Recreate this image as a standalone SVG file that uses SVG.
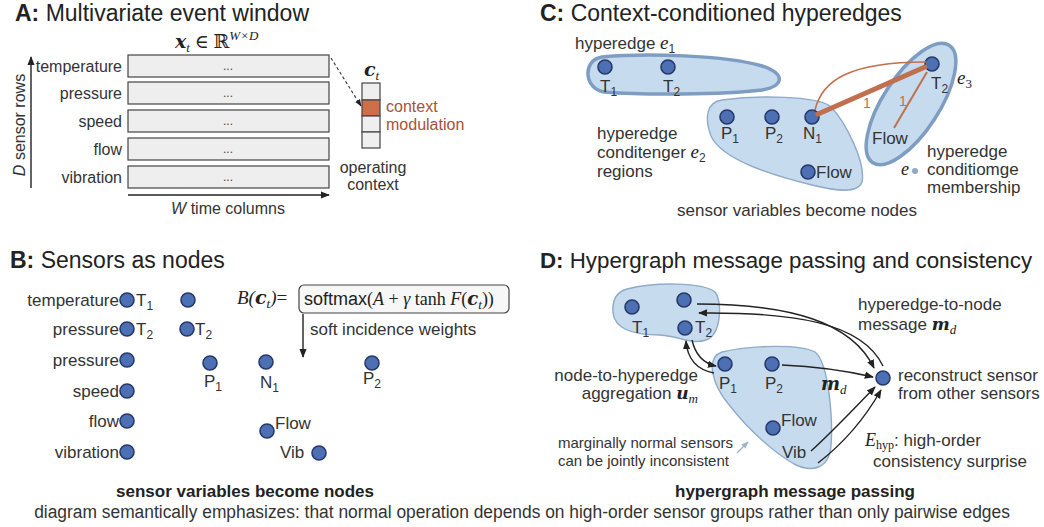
<svg xmlns="http://www.w3.org/2000/svg" width="1044" height="527" viewBox="0 0 1044 527">
  <defs>
    <style>
      .t { font-family: "Liberation Sans", Arial, sans-serif; fill: #333; }
      .title { font-family: "Liberation Sans", Arial, sans-serif; font-size: 23px; fill: #222; }
      .lbl { font-family: "Liberation Sans", Arial, sans-serif; font-size: 16px; fill: #333; }
      .lbl17 { font-family: "Liberation Sans", Arial, sans-serif; font-size: 17px; fill: #333; }
      .sm { font-family: "Liberation Sans", Arial, sans-serif; font-size: 15px; fill: #333; }
      .math { font-family: "Liberation Serif", "DejaVu Serif", serif; font-style: italic; fill: #222; }
      .rm { font-family: "Liberation Serif", "DejaVu Serif", serif; font-style: normal; fill: #222; }
      .mb { font-family: "DejaVu Serif", "Liberation Serif", serif; font-style: italic; font-weight: bold; fill: #222; }
      .node { fill: #4d6fb3; stroke: #26396a; stroke-width: 1.6; }
      .row { fill: #eeeeee; stroke: #444; stroke-width: 1.2; }
      .cell { fill: #efefef; stroke: #444; stroke-width: 1.2; }
      .edge-strong { fill: #c7dbee; stroke: #7d9dc3; stroke-width: 3.5; }
      .edge-soft { fill: #c7dbee; stroke: #8fabc9; stroke-width: 1.4; }
      .arr { fill: none; stroke: #222; stroke-width: 1.4; }
      .wt { fill: none; stroke: #c0704f; }
      .dots { font-family: "Liberation Sans", Arial, sans-serif; font-size: 12px; fill: #444; }
      .ctx { fill: #a4533a; }
    </style>
    <marker id="ah" viewBox="0 0 10 10" refX="9" refY="5" markerWidth="6.5" markerHeight="6.5" orient="auto">
      <path d="M0,1 L10,5 L0,9 z" fill="#222"/>
    </marker>
    <marker id="ahg" viewBox="0 0 10 10" refX="9" refY="5" markerWidth="6" markerHeight="6" orient="auto">
      <path d="M0,1 L10,5 L0,9 z" fill="#9bb4c8"/>
    </marker>
  </defs>

  <rect width="1044" height="527" fill="#ffffff"/>

  <!-- ===== Panel A: multivariate event window ===== -->
  <g id="panel-a">
    <text class="title" x="15" y="21"><tspan font-weight="bold">A:</tspan> Multivariate event window</text>
    <text x="175" y="48" font-size="19"><tspan class="mb">x</tspan><tspan class="math" font-size="13" dy="4">t</tspan><tspan class="rm" dy="-4"> ∈ </tspan><tspan class="rm" style="font-family:'DejaVu Serif',serif">ℝ</tspan><tspan class="math" font-size="13" dy="-8">W×D</tspan></text>

    <g id="matrix">
      <rect class="row" x="128" y="55" width="201" height="22"/>
      <rect class="row" x="128" y="82" width="201" height="22"/>
      <rect class="row" x="128" y="110" width="201" height="22"/>
      <rect class="row" x="128" y="138" width="201" height="22"/>
      <rect class="row" x="128" y="166" width="201" height="22"/>
      <text class="dots" x="228" y="70" text-anchor="middle">...</text>
      <text class="dots" x="228" y="97" text-anchor="middle">...</text>
      <text class="dots" x="228" y="125" text-anchor="middle">...</text>
      <text class="dots" x="228" y="153" text-anchor="middle">...</text>
      <text class="dots" x="228" y="181" text-anchor="middle">...</text>
    </g>

    <g id="row-labels" class="lbl" text-anchor="end">
      <text x="122" y="72">temperature</text>
      <text x="122" y="99">pressure</text>
      <text x="122" y="127">speed</text>
      <text x="122" y="155">flow</text>
      <text x="122" y="183">vibration</text>
    </g>

    <line class="arr" x1="31" y1="188" x2="31" y2="57" marker-end="url(#ah)" stroke-width="1.2"/>
    <text class="lbl" transform="translate(25 125) rotate(-90)" text-anchor="middle"><tspan font-style="italic">D</tspan> sensor rows</text>
    <line class="arr" x1="128" y1="195" x2="329" y2="195" marker-end="url(#ah)" stroke-width="1.2"/>
    <text class="lbl" x="228" y="214" text-anchor="middle"><tspan font-style="italic">W</tspan> time columns</text>

    <g id="context-vector">
      <text x="364" y="76" font-size="19"><tspan class="mb">c</tspan><tspan class="math" font-size="13" dy="4">t</tspan></text>
      <rect class="cell" x="362" y="83" width="18" height="17"/>
      <rect x="362" y="100" width="18" height="16" fill="#cd6f4a" stroke="#444" stroke-width="1.2"/>
      <rect class="cell" x="362" y="116" width="18" height="16"/>
      <rect class="cell" x="362" y="132" width="18" height="16"/>
      <text class="lbl ctx" x="386" y="112">context</text>
      <text class="lbl ctx" x="386" y="130">modulation</text>
      <text class="lbl" x="373" y="173" text-anchor="middle">operating</text>
      <text class="lbl" x="373" y="190" text-anchor="middle">context</text>
    </g>
    <line x1="331" y1="58" x2="361" y2="106" stroke="#333" stroke-width="1.1" stroke-dasharray="3 2.5" marker-end="url(#ah)"/>
  </g>

  <!-- ===== Panel C: context-conditioned hyperedges ===== -->
  <g id="panel-c">
    <text class="title" x="540" y="21"><tspan font-weight="bold">C:</tspan> Context-conditioned hyperedges</text>
    <text class="lbl17" x="575" y="49">hyperedge <tspan class="math" font-size="19">e</tspan><tspan font-size="12" dy="4">1</tspan></text>

    <g id="hyperedge-e1">
      <path class="edge-strong" d="M602,57 C645,53 725,55 762,66 C786,74 784,86 762,90 C722,95 640,95 604,92 C584,89 582,60 602,57 Z"/>
      <circle class="node" cx="605" cy="67" r="7"/>
      <circle class="node" cx="668" cy="67" r="7"/>
      <text class="lbl17" x="600" y="92">T<tspan font-size="12" dy="4">1</tspan></text>
      <text class="lbl17" x="663" y="92">T<tspan font-size="12" dy="4">2</tspan></text>
    </g>

    <g id="hyperedge-e2">
      <path class="edge-soft" d="M722,100 C760,95 815,96 830,106 C846,122 866,163 862,182 C858,194 836,191 812,185 C772,175 722,160 711,136 C704,117 707,102 722,100 Z"/>
      <circle class="node" cx="727" cy="117" r="7"/>
      <circle class="node" cx="772" cy="117" r="7"/>
      <circle class="node" cx="812" cy="117" r="7"/>
      <circle class="node" cx="808" cy="172" r="7"/>
      <text class="lbl17" x="721" y="139">P<tspan font-size="12" dy="4">1</tspan></text>
      <text class="lbl17" x="765" y="139">P<tspan font-size="12" dy="4">2</tspan></text>
      <text class="lbl17" x="803" y="139">N<tspan font-size="12" dy="4">1</tspan></text>
      <text class="lbl17" x="816" y="178">Flow</text>
    </g>

    <g id="hyperedge-e3">
      <ellipse class="edge-strong" cx="911" cy="104" rx="70" ry="28" transform="rotate(-57 911 104)"/>
      <circle class="node" cx="932" cy="64" r="7"/>
      <text class="lbl17" x="931" y="89">T<tspan font-size="12" dy="4">2</tspan></text>
      <text class="lbl17" x="872" y="144">Flow</text>
      <text class="math" x="957" y="84" font-size="19">e<tspan class="rm" font-size="13" dy="4">3</tspan></text>
    </g>

    <g id="weights">
      <path class="wt" d="M815,110 C822,80 850,62 926,62" stroke-width="1.6"/>
      <line class="wt" x1="818" y1="114" x2="925" y2="67" stroke-width="5" stroke-linecap="round"/>
      <line class="wt" x1="894" y1="128" x2="927" y2="72" stroke-width="2"/>
      <text class="t" x="863" y="108" font-size="14" style="fill:#c0704f">1</text>
      <text class="t" x="899" y="106" font-size="14" style="fill:#c0704f">1</text>
    </g>

    <g class="lbl17">
      <text x="597" y="139">hyperedge</text>
      <text x="597" y="158">conditenger <tspan class="math" font-size="19">e</tspan><tspan font-size="12" dy="4">2</tspan></text>
      <text x="597" y="177">regions</text>
      <text x="927" y="157">hyperedge</text>
      <text x="927" y="175">conditiomge</text>
      <text x="927" y="193">membership</text>
      <text x="797" y="216" text-anchor="middle">sensor variables become nodes</text>
    </g>
    <text class="math" x="901" y="175" font-size="18">e</text>
    <circle cx="915" cy="171" r="3" fill="#8fa9c6"/>
  </g>

  <!-- ===== Panel B: sensors as nodes ===== -->
  <g id="panel-b">
    <text class="title" x="10" y="268"><tspan font-weight="bold">B:</tspan> Sensors as nodes</text>

    <g class="lbl17" text-anchor="end">
      <text x="119" y="306">temperature</text>
      <text x="119" y="335">pressure</text>
      <text x="119" y="366">pressure</text>
      <text x="119" y="397">speed</text>
      <text x="119" y="427">flow</text>
      <text x="119" y="458">vibration</text>
    </g>
    <g id="sensor-nodes">
      <circle class="node" cx="127" cy="300" r="7"/>
      <circle class="node" cx="127" cy="329" r="7"/>
      <circle class="node" cx="127" cy="360" r="7"/>
      <circle class="node" cx="127" cy="391" r="7"/>
      <circle class="node" cx="127" cy="421" r="7"/>
      <circle class="node" cx="127" cy="452" r="7"/>
      <circle class="node" cx="188" cy="300" r="7"/>
      <circle class="node" cx="187" cy="329" r="7"/>
      <circle class="node" cx="210" cy="363" r="7"/>
      <circle class="node" cx="266" cy="362" r="7"/>
      <circle class="node" cx="372" cy="363" r="7"/>
      <circle class="node" cx="267" cy="431" r="7"/>
      <circle class="node" cx="319" cy="453" r="7"/>
    </g>
    <g class="lbl17">
      <text x="136" y="306">T<tspan font-size="12" dy="4">1</tspan></text>
      <text x="136" y="335">T<tspan font-size="12" dy="4">2</tspan></text>
      <text x="195" y="335">T<tspan font-size="12" dy="4">2</tspan></text>
      <text x="204" y="387">P<tspan font-size="12" dy="4">1</tspan></text>
      <text x="260" y="388">N<tspan font-size="12" dy="4">1</tspan></text>
      <text x="363" y="384">P<tspan font-size="12" dy="4">2</tspan></text>
      <text x="275" y="429">Flow</text>
      <text x="280" y="458">Vib</text>
    </g>

    <g id="incidence">
      <text class="math" x="237" y="304" font-size="19">B(<tspan class="mb">c</tspan><tspan font-size="13" dy="4">t</tspan><tspan dy="-4">)</tspan><tspan class="rm">=</tspan></text>
      <rect x="299" y="285" width="210" height="28" rx="5" fill="#f7f7f7" stroke="#444" stroke-width="1.2"/>
      <text x="304" y="305" font-size="18"><tspan class="t" style="fill:#222">softmax</tspan><tspan class="rm">(</tspan><tspan class="math">A</tspan><tspan class="rm"> + </tspan><tspan class="math">γ</tspan><tspan class="rm"> tanh </tspan><tspan class="math">F</tspan><tspan class="rm">(</tspan><tspan class="mb">c</tspan><tspan class="math" font-size="13" dy="4">t</tspan><tspan class="rm" dy="-4">))</tspan></text>
      <line class="arr" x1="303" y1="314" x2="303" y2="357" marker-end="url(#ah)" stroke-width="1.2"/>
      <text class="lbl17" x="310" y="335">soft incidence weights</text>
    </g>

    <text class="lbl17" x="245" y="497" text-anchor="middle" font-weight="bold" style="fill:#222">sensor variables become nodes</text>
  </g>

  <!-- ===== Panel D: hypergraph message passing ===== -->
  <g id="panel-d">
    <text class="title" x="540" y="268" style="font-size:22.3px"><tspan font-weight="bold">D:</tspan> Hypergraph message passing and consistency</text>

    <g id="group-t">
      <path class="edge-soft" d="M627,289 C655,282 702,282 715,292 C723,302 721,335 706,340 C691,345 680,336 660,335 C636,335 615,330 613,313 C612,300 616,292 627,289 Z"/>
      <circle class="node" cx="632" cy="307" r="7"/>
      <circle class="node" cx="684" cy="300" r="7"/>
      <circle class="node" cx="685" cy="328" r="7"/>
      <text class="lbl17" x="632" y="333">T<tspan font-size="12" dy="4">1</tspan></text>
      <text class="lbl17" x="695" y="333">T<tspan font-size="12" dy="4">2</tspan></text>
    </g>

    <g id="group-p">
      <path class="edge-soft" d="M722,352 C752,345 800,344 815,352 C829,363 833,420 831,446 C829,469 812,473 794,464 C773,452 749,430 730,406 C712,385 705,358 722,352 Z"/>
      <circle class="node" cx="725" cy="364" r="7"/>
      <circle class="node" cx="772" cy="364" r="7"/>
      <circle class="node" cx="773" cy="428" r="7"/>
      <text class="lbl17" x="719" y="389">P<tspan font-size="12" dy="4">1</tspan></text>
      <text class="lbl17" x="765" y="389">P<tspan font-size="12" dy="4">2</tspan></text>
      <text class="lbl17" x="781" y="426">Flow</text>
      <text class="lbl17" x="782" y="458">Vib</text>
    </g>

    <g id="target">
      <circle class="node" cx="883" cy="378" r="7"/>
    </g>

    <g id="messages">
      <path class="arr" d="M697,304 C790,304 852,322 874,368" marker-end="url(#ah)"/>
      <path class="arr" d="M883,366 C862,322 792,312 699,313" marker-end="url(#ah)"/>
      <path class="arr" d="M692,340 Q697,362 716,366" marker-end="url(#ah)"/>
      <path class="arr" d="M714,373 Q688,368 686,341" marker-end="url(#ah)"/>
      <path class="arr" d="M782,365 Q830,367 873,377" marker-end="url(#ah)"/>
      <path class="arr" d="M811,451 C830,434 853,410 875,387" marker-end="url(#ah)"/>
      <path class="arr" d="M818,463 C840,446 864,420 881,390" marker-end="url(#ah)"/>
      <line x1="737" y1="453" x2="748" y2="442" stroke="#9bb4c8" stroke-width="1.2" marker-end="url(#ahg)"/>
    </g>

    <g class="lbl17">
      <text x="858" y="310">hyperedge-to-node</text>
      <text x="858" y="330">message <tspan class="mb">m</tspan><tspan class="math" font-size="13" dy="4">d</tspan></text>
      <text x="898" y="381">reconstruct sensor</text>
      <text x="898" y="399">from other sensors</text>
      <text x="698" y="381" text-anchor="end">node-to-hyperedge</text>
      <text x="698" y="399" text-anchor="end">aggregation <tspan class="mb">u</tspan><tspan class="math" font-size="13" dy="4">m</tspan></text>
      <text x="865" y="446"><tspan class="math" font-size="18">E</tspan><tspan class="rm" font-size="12" dy="3">hyp</tspan><tspan dy="-3">: high-order</tspan></text>
      <text x="873" y="467">consistency surprise</text>
    </g>
    <text class="mb" x="821" y="390" font-size="18">m<tspan class="math" font-weight="normal" font-size="13" dy="4">d</tspan></text>
    <g class="sm">
      <text x="558" y="448">marginally normal sensors</text>
      <text x="558" y="466">can be jointly inconsistent</text>
    </g>

    <text class="lbl17" x="795" y="497" text-anchor="middle" font-weight="bold" style="fill:#222">hypergraph message passing</text>
  </g>

  <!-- condensed summary line across the full width -->
  <text class="t" transform="translate(522 518) scale(0.915 1)" x="0" y="0" text-anchor="middle" font-size="19">diagram semantically emphasizes: that normal operation depends on high-order sensor groups rather than only pairwise edges</text>
</svg>
